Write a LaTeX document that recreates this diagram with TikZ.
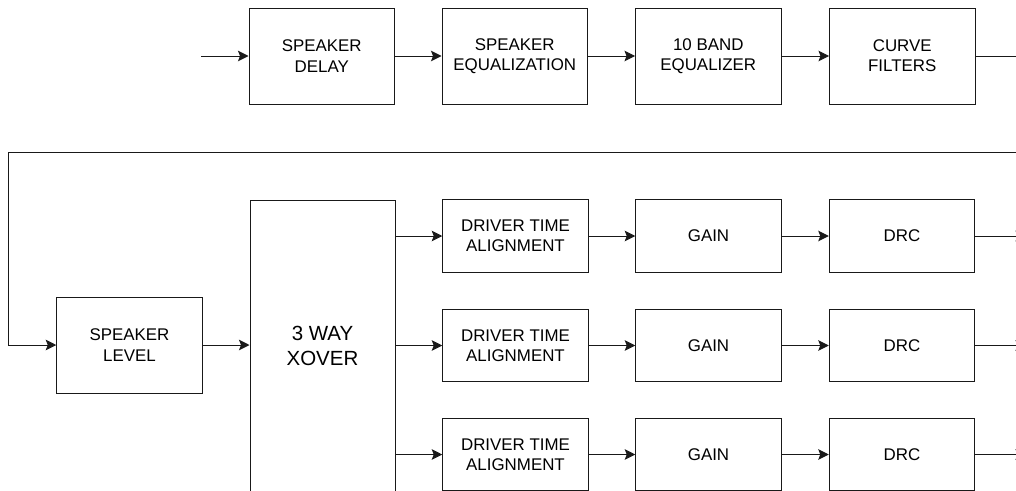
\documentclass[tikz,border=0pt]{standalone}
\usepackage{fontspec}
\setmainfont{Liberation Sans}
\usetikzlibrary{arrows.meta}
\begin{document}
\begin{tikzpicture}[x=1pt,y=-1pt,
  blk/.style={draw=black!90, line width=1pt, fill=white, inner sep=0pt, align=center,
    font=\fontsize{16.9}{20.3}\selectfont},
  tblk/.style={blk, minimum width=145.5pt, minimum height=96pt},
  dblk/.style={blk, minimum width=145.5pt, minimum height=72.5pt},
  big/.style={blk, font=\fontsize{20.5}{25}\selectfont},
  con/.style={draw=black!90, line width=1pt},
  arr/.style={con, -{Stealth[length=10.5pt,width=10.5pt,inset=2pt]}}]
\useasboundingbox (0,0) rectangle (1016,490);
\clip (0,0) rectangle (1016,490);
% top row
\node[tblk] (sd) at (321.75,56) {SPEAKER\\DELAY};
\node[tblk] (se) at (514.75,56) {SPEAKER\\EQUALIZATION};
\node[tblk] (be) at (708.25,56) {10 BAND\\EQUALIZER};
\node[tblk] (cf) at (902.25,56) {CURVE\\FILTERS};
\coordinate (in) at (201,56);
\coordinate (fr1) at (1030,56);
\coordinate (fr2) at (1030,152);
\coordinate (fl) at (8,152);
% speaker level and xover
\node[tblk] (sl) at (129.5,345) {SPEAKER\\LEVEL};
\node[big, minimum width=145pt, minimum height=291pt] (xo) at (322.5,345.5) {3 WAY\\XOVER};
% driver rows
\foreach \r/\y in {1/236,2/345.5,3/454.5}{
  \node[dblk] (dt\r) at (515.5,\y) {DRIVER TIME\\ALIGNMENT};
  \node[dblk] (g\r) at (708.5,\y) {GAIN};
  \node[dblk] (d\r) at (902,\y) {DRC};
  \coordinate (o\r) at (1026,\y);
  \coordinate (x\r) at (xo.east |- dt\r.west);
  \draw[arr] (x\r) -- (dt\r.west);
  \draw[arr] (dt\r) -- (g\r);
  \draw[arr] (g\r) -- (d\r);
  \draw[arr] (d\r.east) -- (o\r);
}
% connectors
\draw[arr] (in) -- (sd);
\draw[arr] (sd) -- (se);
\draw[arr] (se) -- (be);
\draw[arr] (be) -- (cf);
\draw[con] (cf.east) -- (fr1) -- (fr2) -- (fl) -- (fl |- sl.west);
\draw[arr] (fl |- sl.west) -- (sl.west);
\draw[arr] (sl) -- (xo.west |- sl.east);
\end{tikzpicture}
\end{document}
